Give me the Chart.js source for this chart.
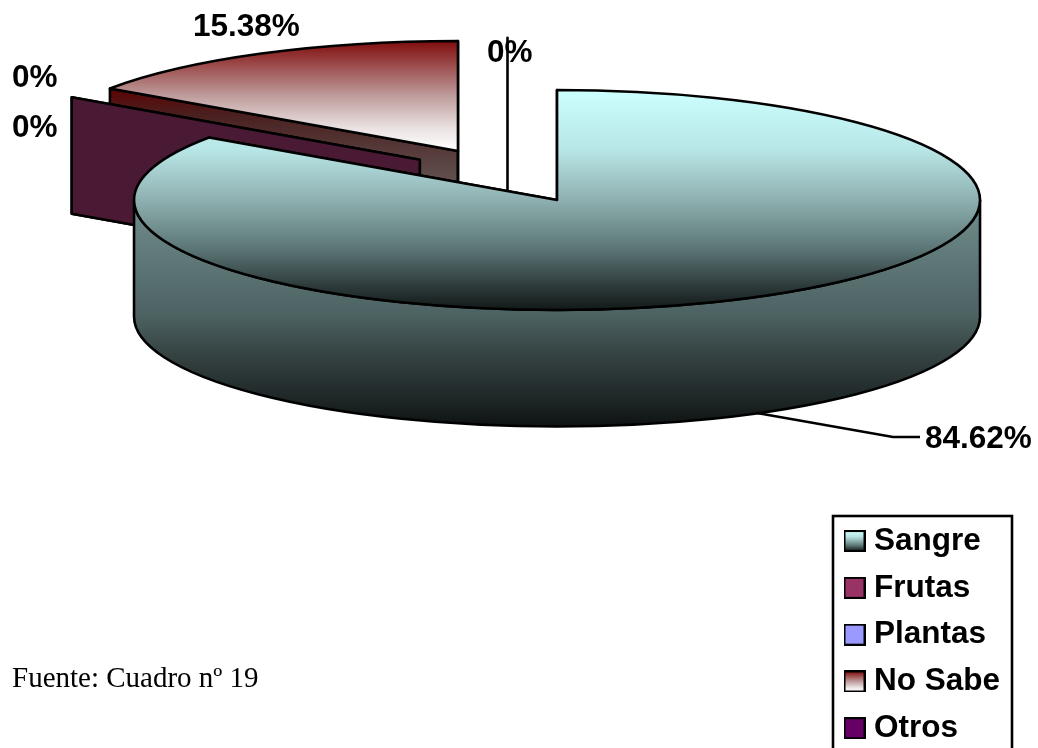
<!DOCTYPE html>
<html lang="es">
<head>
<meta charset="utf-8">
<title>Fuente: Cuadro nº 19</title>
<script src="https://cdn.jsdelivr.net/npm/chart.js@4"></script>
<style>
  html, body { margin: 0; padding: 0; background: #fff; overflow: hidden; }
  #wrap { position: relative; width: 1038px; height: 748px; }
  canvas { position: absolute; left: 0; top: 0; }
  #source { position: absolute; left: 12px; top: 661px; font: 29px "Liberation Serif", serif; color: #000; white-space: nowrap; }
</style>
</head>
<body>
<div id="wrap">
  <canvas id="pie" width="1038" height="748"></canvas>
  <div id="source">Fuente: Cuadro nº 19</div>
</div>
<script>
// Chart values, in percent
const categories = ['Sangre', 'Frutas', 'Plantas', 'No Sabe', 'Otros'];
const percentages = [84.62, 0, 0, 15.38, 0];

// Base colours, used by the legend swatches and the flat zero-size slices
const baseColors = ['#CCFFFF', '#993366', '#9999FF', '#800000', '#660066'];
const wallColors = ['#5f7a7a', '#4a1a35', '#4a4a80', '#5a0505', '#330033'];

// Gradient stops [position, colour] for the top faces and the side walls
const faceStops = {
  0: [[0, '#CCFFFF'], [0.27, '#B8E6E6'], [0.5, '#8FB0B0'], [0.727, '#5A7474'], [0.886, '#2F3C3C'], [1, '#121818']],
  3: [[0, '#800C0C'], [0.5, '#BF9C9C'], [0.8, '#EBE3E3'], [1, '#FFFFFF']]
};
const wallStops = {
  0: [[0, '#728E8E'], [0.51, '#4D6262'], [0.66, '#384646'], [0.88, '#1E2626'], [1, '#0E1212']],
  3: [[0, '#5C0303'], [0.15, '#4A2020'], [0.5, '#5F4F4D'], [1, '#5F4F4D']]
};

// Projection of the tilted pie onto the page
const pieView = { cx: 507.5, cy: 175.5, rx: 423, ry: 110, depth: 116.5, explode: 0.252 };
const paintOrder = [3, 2, 1, 4, 0];
const outlineWidth = 2.6;

// Where each percentage is written: left edge and baseline
const labelSpots = [
  { x: 925, y: 448 }, { x: 12, y: 137 }, { x: 12, y: 87 }, { x: 193, y: 36 }, { x: 487, y: 62 }
];
const leaderLine = [[757, 413], [893, 437], [920, 437]];
const legendFrame = { left: 833, top: 516, right: 1012, bottom: 760 };
const labelFont = 'bold 31.5px "Liberation Sans", Arial, sans-serif';

function addStops(gradient, stops) {
  stops.forEach(([p, c]) => gradient.addColorStop(p, c));
  return gradient;
}

// Top-face fill, expressed in the pie's own untilted coordinates
function faceFill(context) {
  const i = context.dataIndex;
  const area = context.chart.chartArea;
  if (!area || i === undefined || !faceStops[i]) return baseColors[i] || '#000';
  const mid = (area.top + area.bottom) / 2;
  const r = (area.bottom - area.top) / 2;
  const y1 = i === 0 ? mid + r : mid;
  return addStops(context.chart.ctx.createLinearGradient(0, mid - r, 0, y1), faceStops[i]);
}

function makeSwatch(index) {
  const size = 22;
  const c = document.createElement('canvas');
  c.width = size;
  c.height = size;
  const g = c.getContext('2d');
  if (faceStops[index]) {
    g.fillStyle = addStops(g.createLinearGradient(0, 1, 0, size - 1), faceStops[index]);
  } else {
    g.fillStyle = baseColors[index];
  }
  g.fillRect(0, 0, size, size);
  g.strokeStyle = '#000';
  g.lineWidth = 2;
  g.strokeRect(1, 1, size - 2, size - 2);
  return c;
}

function sliceCentre(arc) {
  const mid = (arc.startAngle + arc.endAngle) / 2;
  return {
    x: pieView.cx + Math.cos(mid) * pieView.explode * pieView.rx,
    y: pieView.cy + Math.sin(mid) * pieView.explode * pieView.ry
  };
}

function rimPoint(centre, angle) {
  return { x: centre.x + Math.cos(angle) * pieView.rx, y: centre.y + Math.sin(angle) * pieView.ry };
}

function wallFill(ctx, index, top, bottom) {
  if (!wallStops[index]) return wallColors[index];
  return addStops(ctx.createLinearGradient(0, top, 0, bottom), wallStops[index]);
}

function paintShape(ctx, fill, trace) {
  ctx.beginPath();
  trace();
  ctx.closePath();
  if (fill) {
    ctx.fillStyle = fill;
    ctx.fill();
  }
  ctx.stroke();
}

function drawRadialWall(ctx, index, centre, angle) {
  const rim = rimPoint(centre, angle);
  const top = Math.min(rim.y, centre.y);
  const d = pieView.depth;
  paintShape(ctx, wallFill(ctx, index, top, Math.max(rim.y, centre.y) + d), () => {
    ctx.moveTo(centre.x, centre.y);
    ctx.lineTo(rim.x, rim.y);
    ctx.lineTo(rim.x, rim.y + d);
    ctx.lineTo(centre.x, centre.y + d);
  });
}

function drawOuterWall(ctx, index, centre, start, end) {
  const a = Math.max(start, 0);
  const b = Math.min(end, Math.PI);
  if (a >= b) return;
  const { rx, ry, depth } = pieView;
  paintShape(ctx, wallFill(ctx, index, centre.y, centre.y + ry + depth), () => {
    ctx.ellipse(centre.x, centre.y, rx, ry, 0, a, b);
    ctx.ellipse(centre.x, centre.y + depth, rx, ry, 0, b, a, true);
  });
}

const tiltedPie = {
  id: 'tiltedPie',
  afterLayout(chart) {
    // The legend sits in the lower right corner, clear of the pie
    const legend = chart.legend;
    const w = legend.width;
    const h = legend.height;
    legend.left = 835.45;
    legend.top = 510;
    legend.right = legend.left + w;
    legend.bottom = legend.top + h;
  },
  beforeDatasetsDraw(chart) {
    const ctx = chart.ctx;
    const arcs = chart.getDatasetMeta(0).data;
    ctx.save();
    ctx.strokeStyle = '#000';
    ctx.lineWidth = outlineWidth;
    ctx.lineJoin = 'round';
    paintOrder.forEach((i) => {
      const arc = arcs[i];
      const centre = sliceCentre(arc);
      const { startAngle: start, endAngle: end } = arc;
      drawRadialWall(ctx, i, centre, start);
      if (end > start) {
        drawRadialWall(ctx, i, centre, end);
        drawOuterWall(ctx, i, centre, start, end);

        // The library's arc supplies the top face, squashed into the ellipse
        ctx.save();
        ctx.translate(centre.x, centre.y);
        ctx.scale(pieView.rx / arc.outerRadius, pieView.ry / arc.outerRadius);
        ctx.translate(-arc.x, -arc.y);
        arc.draw(ctx);
        ctx.restore();

        const rim = rimPoint(centre, start);
        ctx.beginPath();
        ctx.moveTo(centre.x, centre.y);
        ctx.lineTo(rim.x, rim.y);
        ctx.ellipse(centre.x, centre.y, pieView.rx, pieView.ry, 0, start, end);
        ctx.closePath();
        ctx.stroke();
      }
    });
    ctx.restore();
    return false;
  },
  afterDraw(chart) {
    const ctx = chart.ctx;
    ctx.save();
    ctx.strokeStyle = '#000';
    ctx.lineWidth = outlineWidth;
    ctx.beginPath();
    leaderLine.forEach(([x, y], n) => (n ? ctx.lineTo(x, y) : ctx.moveTo(x, y)));
    ctx.stroke();

    ctx.strokeRect(legendFrame.left, legendFrame.top,
      legendFrame.right - legendFrame.left, legendFrame.bottom - legendFrame.top);

    ctx.fillStyle = '#000';
    ctx.font = labelFont;
    ctx.textAlign = 'left';
    ctx.textBaseline = 'alphabetic';
    percentages.forEach((value, i) => {
      ctx.fillText(value + '%', labelSpots[i].x, labelSpots[i].y);
    });
    ctx.restore();
  }
};

new Chart(document.getElementById('pie'), {
  type: 'pie',
  data: {
    labels: categories,
    datasets: [{ data: percentages, backgroundColor: faceFill, borderWidth: 0 }]
  },
  plugins: [tiltedPie],
  options: {
    responsive: false,
    animation: false,
    layout: { padding: 0 },
    plugins: {
      tooltip: { enabled: false },
      legend: {
        position: 'chartArea',
        align: 'start',
        labels: {
          usePointStyle: true,
          pointStyleWidth: 7.5,
          padding: 15.3,
          color: '#000',
          font: { family: '"Liberation Sans", Arial, sans-serif', size: 31.5, weight: 'bold' },
          generateLabels: () => categories.map((text, index) => ({
            text,
            index,
            fillStyle: baseColors[index],
            strokeStyle: '#000',
            lineWidth: 0,
            hidden: false,
            pointStyle: makeSwatch(index),
            fontColor: '#000'
          }))
        }
      }
    }
  }
});
</script>
</body>
</html>
